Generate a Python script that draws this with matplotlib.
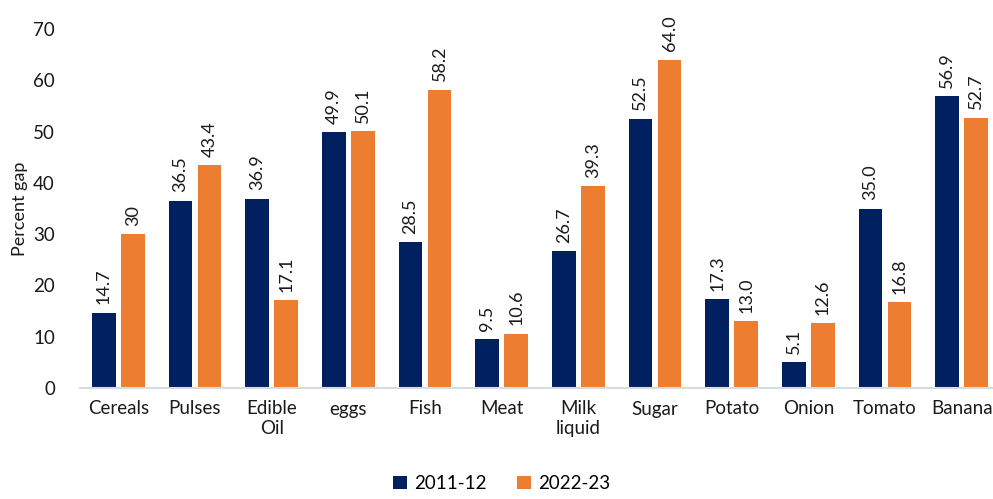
import matplotlib
matplotlib.use("Agg")
import matplotlib.pyplot as plt
import numpy as np

categories = ["Cereals", "Pulses", "Edible\nOil", "eggs", "Fish", "Meat", "Milk\nliquid",
              "Sugar", "Potato", "Onion", "Tomato", "Banana"]
gap_2011 = [14.7, 36.5, 36.9, 49.9, 28.5, 9.5, 26.7, 52.5, 17.3, 5.1, 35.0, 56.9]
gap_2022 = [30.0, 43.4, 17.1, 50.1, 58.2, 10.6, 39.3, 64.0, 13.0, 12.6, 16.8, 52.7]
labels_2011 = ["14.7", "36.5", "36.9", "49.9", "28.5", "9.5", "26.7", "52.5", "17.3", "5.1", "35.0", "56.9"]
labels_2022 = ["30", "43.4", "17.1", "50.1", "58.2", "10.6", "39.3", "64.0", "13.0", "12.6", "16.8", "52.7"]
series_names = ["2011-12", "2022-23"]

plt.rcParams['font.family'] = ['Lato', 'DejaVu Sans']

fig = plt.figure(figsize=(9.93, 4.99), dpi=100)
ax = fig.add_axes([80 / 993, 111 / 499, 920 / 993, 359 / 499])

navy = "#002060"
orange = "#ED7D31"
x = np.arange(len(categories))
w = 0.31
off = 0.19
b1 = ax.bar(x - off, gap_2011, w, color=navy, label=series_names[0])
b2 = ax.bar(x + off, gap_2022, w, color=orange, label=series_names[1])

for bars, labs in ((b1, labels_2011), (b2, labels_2022)):
    for rect, lab in zip(bars, labs):
        ax.annotate(lab, (rect.get_x() + rect.get_width() / 2, rect.get_height()),
                    xytext=(0, 6), textcoords="offset points", rotation=90,
                    ha="center", va="bottom", fontsize=13, color="#1a1a1a")

ax.set_xlim(-0.5, len(categories) - 0.5)
ax.set_ylim(0, 70)
ax.set_yticks(range(0, 71, 10))
ax.set_xticks(x)
ax.set_xticklabels(categories, fontsize=13.5, color="#1a1a1a", linespacing=1.15)
ax.tick_params(axis="y", labelsize=13.5, labelcolor="#1a1a1a", length=0, pad=18)
ax.tick_params(axis="x", length=0, pad=9)
for s in ("top", "right", "left"):
    ax.spines[s].set_visible(False)
ax.spines["bottom"].set_color("#D6DCE4")
ax.spines["bottom"].set_linewidth(1.5)
ax.set_ylabel("Percent gap", fontsize=13, color="#1a1a1a")
ax.yaxis.set_label_coords(-0.057, 0.5)

fig.legend(handles=[b1, b2], loc="lower center", bbox_to_anchor=(0.505, -0.02), ncol=2,
           frameon=False, fontsize=13.5, handlelength=0.75, handleheight=0.75,
           handletextpad=0.4, columnspacing=1.6)

fig.savefig("out.png", dpi=100)
